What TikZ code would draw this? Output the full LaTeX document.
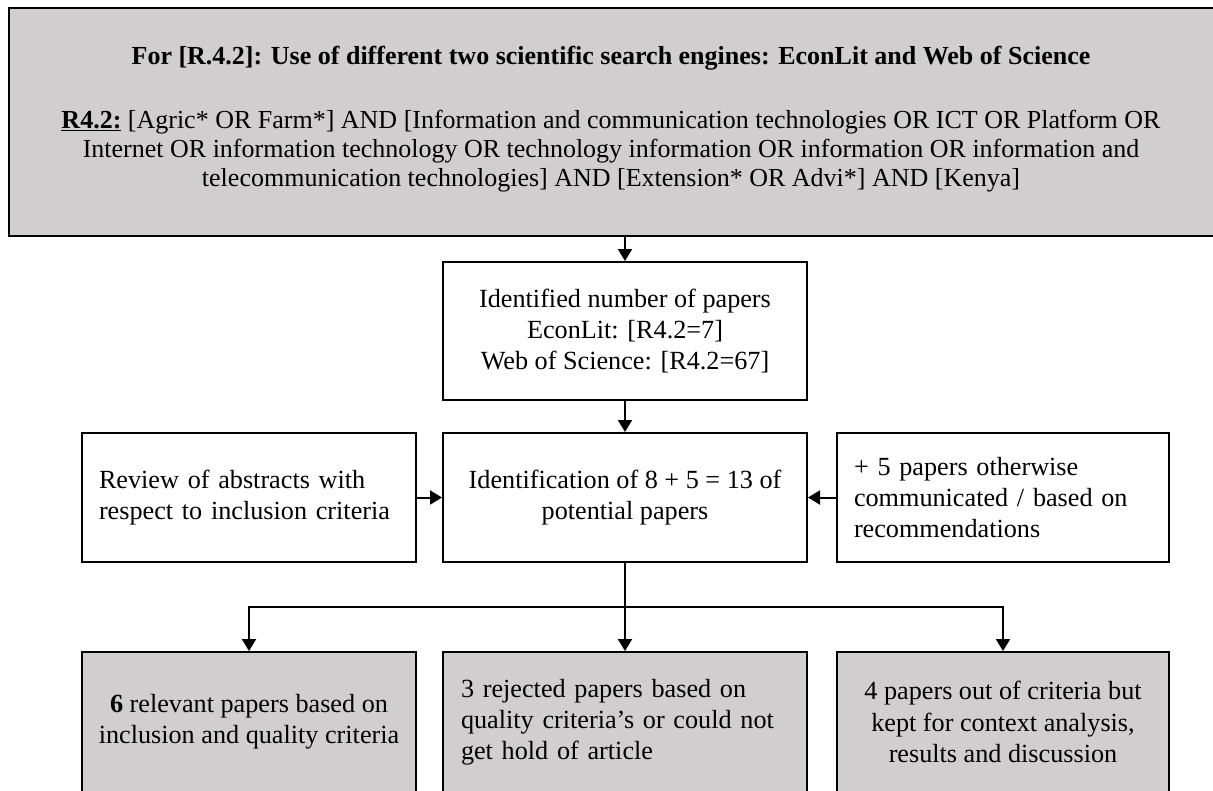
\documentclass[tikz,border=0pt]{standalone}
\usepackage{fontspec}
\setmainfont{Liberation Serif}
\usetikzlibrary{arrows.meta}
\definecolor{boxgray}{HTML}{D0CECE}
\newcommand\boxfont{\fontsize{26.2}{31.2}\selectfont}
\newcommand\topfont{\fontsize{26}{29}\selectfont}

\begin{document}
\begin{tikzpicture}[x=1pt,y=-1pt,
  box/.style={draw=black,line width=2pt,inner sep=0pt,font=\boxfont,
              minimum width=#1},
  grayfill/.style={fill=boxgray},
  arr/.style={line width=2pt,-{Triangle[length=12pt,width=14pt]}},
  link/.style={line width=2pt}]
  \useasboundingbox (0,0) rectangle (1213,790);
  \clip (0,0) rectangle (1213,790);

  % search strategy: the box, then its text set slightly above centre
  \node[box=1206, grayfill, minimum height=228] (search) at (612,122) {};
  \node[inner sep=0pt, align=center, font=\topfont] (searchtext) at (611,119)
    {\textbf{For [R.4.2]: Use of different two scientific search engines: EconLit and Web of Science}\\[35pt]
     \underline{\textbf{R4.2:}} [Agric* OR Farm*] AND [Information and communication technologies OR ICT OR Platform OR\\
     Internet OR information technology OR technology information OR information OR information and\\
     telecommunication technologies] AND [Extension* OR Advi*] AND [Kenya]};

  % identification
  \node[box=364, minimum height=138, align=center] (ident) at (625,331)
    {Identified number of papers\\EconLit: [R4.2=7]\\Web of Science: [R4.2=67]};
  \node[box=364, minimum height=129, align=center] (cand) at (625,497.5)
    {Identification of 8 + 5 = 13 of\\potential papers};
  \node[box=334, minimum height=129, text width=300, align=left] (review) at (249,497.5)
    {Review of abstracts with\\respect to inclusion criteria};
  \node[box=332, minimum height=129, text width=298, align=left] (other) at (1003,497.5)
    {+ 5 papers otherwise\\communicated / based on\\recommendations};

  % outcomes
  \node[box=334, grayfill, minimum height=140, align=center] (rel) at (249,722)
    {\textbf{6} relevant papers based on\\inclusion and quality criteria};
  \node[box=364, grayfill, minimum height=140, text width=328, align=left] (rej) at (625,722)
    {3 rejected papers based on\\quality criteria’s or could not\\get hold of article};
  \node[box=332, grayfill, minimum height=140, align=center] (ctx) at (1003,722)
    {4 papers out of criteria but\\kept for context analysis,\\results and discussion};

  % connectors
  \coordinate (fork) at (625,607);
  \draw[arr] (search.south -| ident.north) -- (ident.north);
  \draw[arr] (ident) -- (cand);
  \draw[arr] (review) -- (cand);
  \draw[arr] (other) -- (cand);
  \draw[link] (cand.south) -- (fork);
  \draw[arr] (fork) -- (rej.north);
  \draw[arr] (fork) -| (rel.north);
  \draw[arr] (fork) -| (ctx.north);
\end{tikzpicture}
\end{document}
